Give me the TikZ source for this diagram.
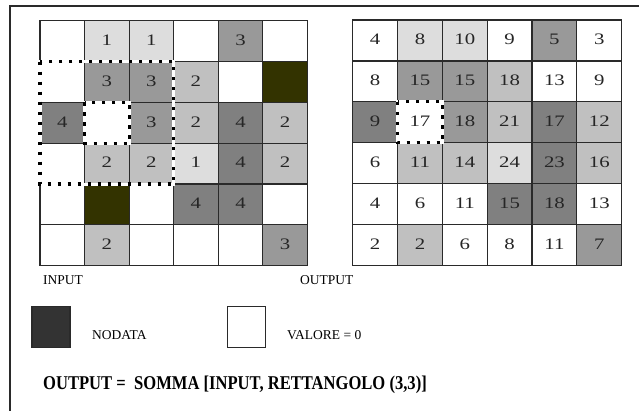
\documentclass[tikz,border=0pt]{standalone}
\usepackage{fontspec}
\usepackage{graphicx}
\setmainfont{Liberation Serif}
\newfontfamily\numfont[FakeStretch=1.3]{Liberation Serif}
\definecolor{cW}{HTML}{FFFFFF}
\definecolor{cL}{HTML}{DDDDDD}
\definecolor{cM}{HTML}{C0C0C0}
\definecolor{cG}{HTML}{999999}
\definecolor{cD}{HTML}{808080}
\definecolor{cN}{HTML}{333300}
\definecolor{cK}{HTML}{333333}
\definecolor{lineC}{HTML}{2A2A2A}
\tikzset{
  cellbox/.style={draw=lineC, line width=1.2pt, rectangle, inner sep=0pt, outer sep=0pt,
    font=\numfont\fontsize{16}{16}\selectfont, text=black!85},
  dotbase/.style={draw=white, line width=3pt},
  dotbox/.style={draw=black, line width=3.2pt, dash pattern=on 3.2pt off 6.8pt},
  lbl/.style={anchor=west, inner sep=0pt, font=\fontsize{13.5}{14}\selectfont},
  legbox/.style={draw=lineC, line width=1.2pt, rectangle, inner sep=0pt, minimum width=38pt, minimum height=41pt}
}
\begin{document}
\begin{tikzpicture}[x=1pt,y=-1pt]
\useasboundingbox (0,0) rectangle (639,411);
% outer frame (top and left only visible)
\coordinate (fTL) at (10,6);
\coordinate (fTR) at (639,6);
\coordinate (fBL) at (10,411);
\draw[line width=1.5pt, lineC] (fBL) -- (fTL) -- (fTR);
% input grid
\def\iw{44.55}\def\ih{40.83}
\foreach \r/\row in {0/{W//,L/1,L/1,W//,G/3,W//},
                     1/{W//,G/3,G/3,M/2,W//,N//},
                     2/{D/4,W//,G/3,M/2,D/4,M/2},
                     3/{W//,M/2,M/2,L/1,D/4,M/2},
                     4/{W//,N//,W//,D/4,D/4,W//},
                     5/{W//,M/2,W//,W//,W//,G/3}}{
  \foreach \c/\val [count=\k from 0] in \row {
    \node[cellbox, fill=c\c, minimum width=\iw pt, minimum height=\ih pt]
      (i-\r-\k) at ({40+\iw*(\k+0.5)},{20.7+\ih*(\r+0.5)}) {\raisebox{2pt}{\val}};
  }
}
% output grid
\def\ow{44.83}\def\oh{40.95}
\foreach \r/\row in {0/{W/4,L/8,L/10,W/9,G/5,W/3},
                     1/{W/8,G/15,G/15,M/18,W/13,W/9},
                     2/{D/9,W/17,G/18,M/21,D/17,M/12},
                     3/{W/6,M/11,M/14,L/24,D/23,M/16},
                     4/{W/4,W/6,W/11,D/15,D/18,W/13},
                     5/{W/2,M/2,W/6,W/8,W/11,G/7}}{
  \foreach \c/\val [count=\k from 0] in \row {
    \node[cellbox, fill=c\c, minimum width=\ow pt, minimum height=\oh pt]
      (o-\r-\k) at ({352.7+\ow*(\k+0.5)},{20+\oh*(\r+0.5)}) {\raisebox{2pt}{\val}};
  }
}
% dotted windows
\foreach \a/\b in {i-1-0/i-3-2, i-2-1/i-2-1, o-2-1/o-2-1}{
  \draw[dotbase] (\a.north west) rectangle (\b.south east);
  \draw[dotbox] (\a.north west) rectangle (\b.south east);
}
% labels
\node[lbl] (lin) at (43,280) {INPUT};
\node[lbl] (lout) at (300,280) {OUTPUT};
% legend
\node[legbox, fill=cK] (lnd) at (51,327) {};
\node[lbl] (tnd) at (92,335) {NODATA};
\node[legbox, fill=white] (lz) at (246.5,327) {};
\node[lbl] (tz) at (287,335) {VALORE = 0};
% formula
\node[anchor=west, inner sep=0pt, font=\bfseries\fontsize{19.5}{20}\selectfont] (form) at (43,385)
  {\scalebox{0.85}[1]{OUTPUT =\ \ SOMMA [INPUT, RETTANGOLO (3,3)]}};
\end{tikzpicture}
\end{document}
